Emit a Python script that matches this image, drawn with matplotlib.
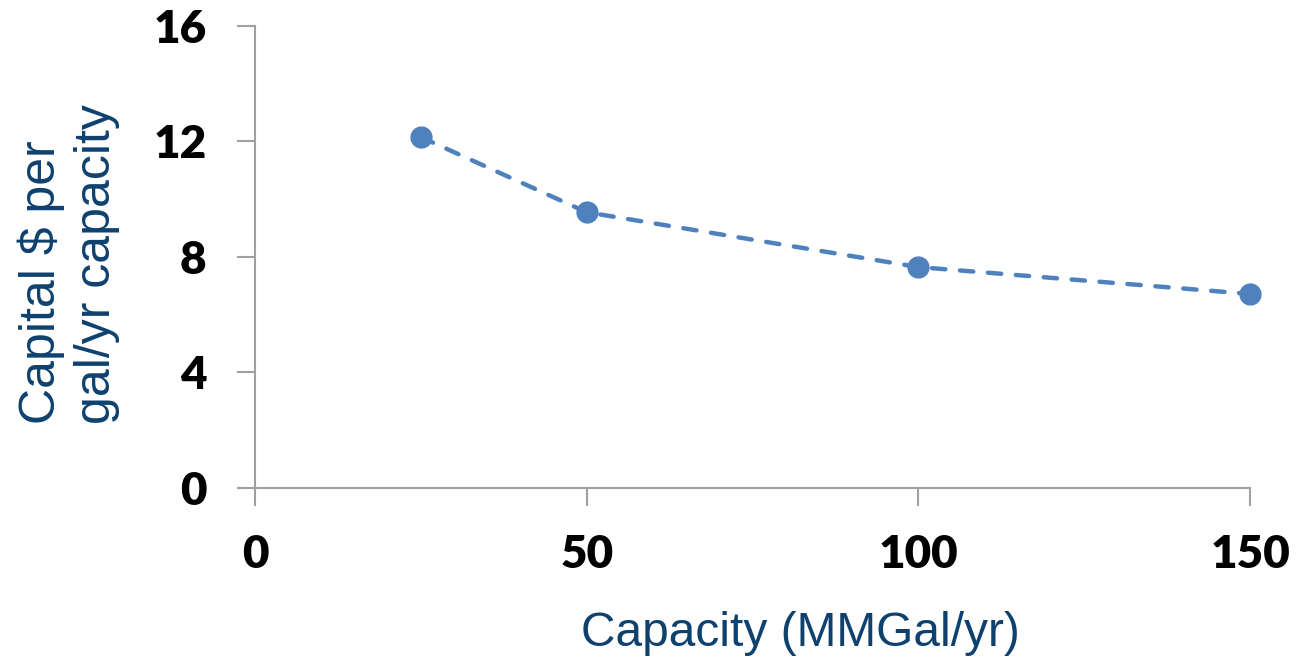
import matplotlib
matplotlib.use("Agg")
import matplotlib.pyplot as plt

# capacity (MMGal/yr) vs capital $ per gal/yr capacity
capacity = [25, 50, 100, 150]
capital_per_gal = [12.15, 9.55, 7.65, 6.72]

xticks = [0, 50, 100, 150]
yticks = [0, 4, 8, 12, 16]

point_color = "#4F81BD"
label_color = "#0E416E"
axis_gray = "#A0A0A0"

fig = plt.figure(figsize=(12.97, 6.63), dpi=100)
ax = fig.add_axes([0.1966, 0.2640, 0.7672, 0.6968])

ax.plot(capacity, capital_per_gal, color=point_color, lw=3.2, ls=(0, (3.0, 3.3)),
        dash_capstyle="round", marker="o", ms=15, mec=point_color, mfc=point_color,
        clip_on=False)

ax.set_xlim(0, 150)
ax.set_ylim(0, 16)
ax.set_xticks(xticks)
ax.set_yticks(yticks)

for side in ("top", "right"):
    ax.spines[side].set_visible(False)
for side in ("left", "bottom"):
    ax.spines[side].set_color(axis_gray)
    ax.spines[side].set_linewidth(1.5)
    ax.spines[side].set_clip_on(False)

ax.tick_params(axis="both", direction="out", length=13, width=1.5, color=axis_gray)
ax.tick_params(axis="x", pad=20)
ax.tick_params(axis="y", pad=22)
for lab in ax.get_xticklabels() + ax.get_yticklabels():
    lab.set_fontfamily("Lato")
    lab.set_fontweight("heavy")
    lab.set_fontsize(33)

ax.set_xlabel("Capacity (MMGal/yr)", family="Liberation Sans", fontsize=34.5,
              color=label_color, va="top")
ax.xaxis.set_label_coords(0.548, -0.266)
ax.set_ylabel("Capital $ per\ngal/yr capacity", family="Liberation Sans", fontsize=36,
              color=label_color, linespacing=1.25, multialignment="left")
ax.yaxis.set_label_coords(-0.1357, 0.485)

fig.savefig("out.png", dpi=100)
